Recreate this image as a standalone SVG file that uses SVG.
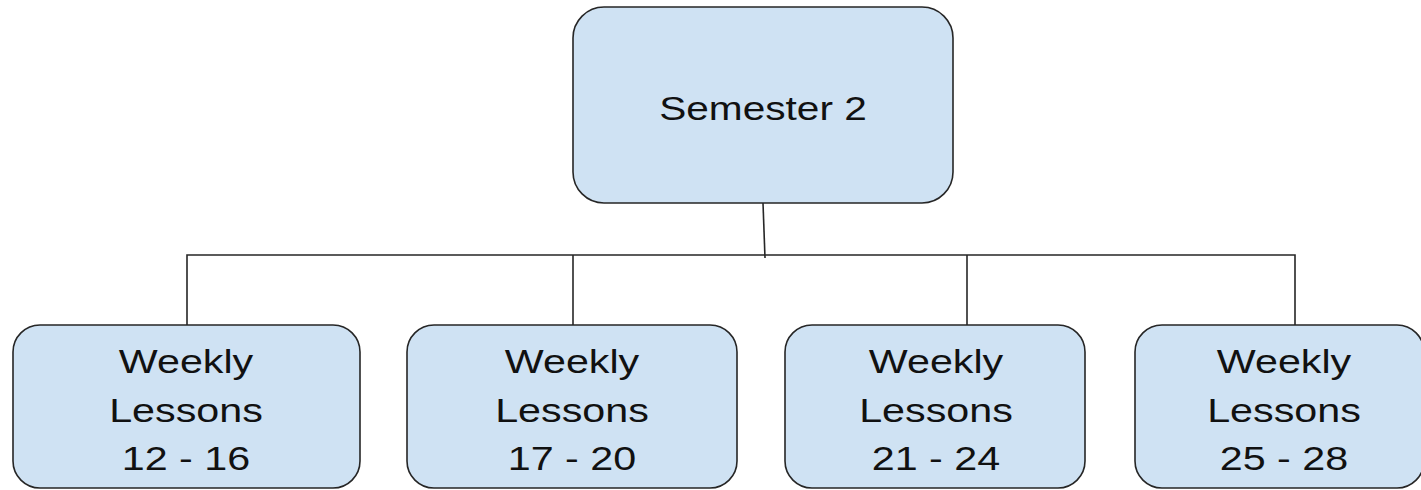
<svg xmlns="http://www.w3.org/2000/svg" width="1421" height="490" viewBox="0 0 1421 490">
<style>
.box{fill:#cfe2f3;stroke:#262626;stroke-width:1.6}
.ln{fill:none;stroke:#262626;stroke-width:1.6}
.t{font-family:"Liberation Sans",Arial,sans-serif;font-size:32.5px;fill:#111;text-anchor:middle}
</style>
<rect width="1421" height="490" fill="#ffffff"/>
<g id="connectors">
<path class="ln" d="M763 203 L765 258"/>
<path class="ln" d="M187 325 V255 H1295 V325"/>
<path class="ln" d="M573 255 V325"/>
<path class="ln" d="M967 255 V325"/>
</g>
<g id="semester2">
<rect class="box" x="573" y="7" width="380" height="196" rx="31" ry="31"/>
<text class="t" transform="translate(763 120) scale(1.25 1)" x="0" y="0">Semester 2</text>
</g>
<g id="lessons12-16">
<rect class="box" x="13" y="325" width="347" height="163" rx="27" ry="27"/>
<text class="t" transform="translate(186 0) scale(1.27 1)"><tspan x="0" y="373">Weekly</tspan><tspan x="0" y="422">Lessons</tspan><tspan x="0" y="470">12 - 16</tspan></text>
</g>
<g id="lessons17-20">
<rect class="box" x="407" y="325" width="330" height="163" rx="27" ry="27"/>
<text class="t" transform="translate(572 0) scale(1.27 1)"><tspan x="0" y="373">Weekly</tspan><tspan x="0" y="422">Lessons</tspan><tspan x="0" y="470">17 - 20</tspan></text>
</g>
<g id="lessons21-24">
<rect class="box" x="785" y="325" width="300" height="163" rx="27" ry="27"/>
<text class="t" transform="translate(936 0) scale(1.27 1)"><tspan x="0" y="373">Weekly</tspan><tspan x="0" y="422">Lessons</tspan><tspan x="0" y="470">21 - 24</tspan></text>
</g>
<g id="lessons25-28">
<rect class="box" x="1135" y="325" width="289" height="163" rx="27" ry="27"/>
<text class="t" transform="translate(1284 0) scale(1.27 1)"><tspan x="0" y="373">Weekly</tspan><tspan x="0" y="422">Lessons</tspan><tspan x="0" y="470">25 - 28</tspan></text>
</g>
</svg>
